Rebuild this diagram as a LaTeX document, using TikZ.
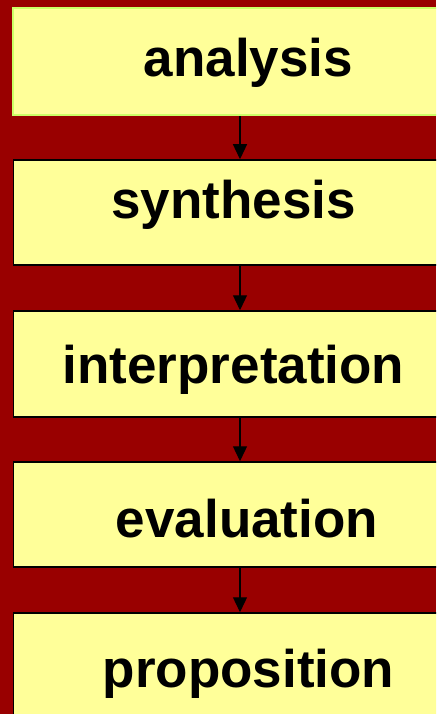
\documentclass[tikz,border=0pt]{standalone}
\usepackage{fontspec}
\setmainfont{Liberation Sans}
\usetikzlibrary{arrows.meta}
\definecolor{bgred}{HTML}{990000}
\definecolor{boxfill}{HTML}{FFFF99}
\definecolor{firstedge}{HTML}{CCFF66}
\tikzset{
  stagebox/.style={draw=black, line width=1.5pt, fill=boxfill, rectangle, inner sep=0pt, minimum width=433pt},
  stagelabel/.style={anchor=base, inner sep=0pt, font=\fontsize{53}{60}\selectfont\bfseries},
  flowarrow/.style={line width=1.3pt, -{Triangle[length=15pt,width=14pt]}}
}
\begin{document}
\begin{tikzpicture}[x=1pt,y=-1pt]
\useasboundingbox (0,0) rectangle (436,714);
\fill[bgred] (0,0) rectangle (436,714);
\clip (0,0) rectangle (436,714);
\node[stagebox, draw=firstedge, line width=2pt, minimum height=107pt] (b1) at (229.5,61.5) {};
\node[stagebox, minimum height=105pt] (b2) at (230,212.5) {};
\node[stagebox, minimum height=106pt] (b3) at (230,364) {};
\node[stagebox, minimum height=105pt] (b4) at (230,514.5) {};
\node[stagebox, minimum height=107pt] (b5) at (230,666.5) {};
\node[stagelabel] (t1) at (248.5,77) {analysis};
\node[stagelabel] (t2) at (233.5,218) {synthesis};
\node[stagelabel] (t3) at (233.5,383) {interpretation};
\node[stagelabel] (t4) at (247,537) {evaluation};
\node[stagelabel] (t5) at (248.5,687) {proposition};
\coordinate (ax) at (240,0);
\draw[flowarrow] (b1.south -| ax) -- (b2.north -| ax);
\draw[flowarrow] (b2.south -| ax) -- (b3.north -| ax);
\draw[flowarrow] (b3.south -| ax) -- (b4.north -| ax);
\draw[flowarrow] (b4.south -| ax) -- (b5.north -| ax);
\end{tikzpicture}
\end{document}
